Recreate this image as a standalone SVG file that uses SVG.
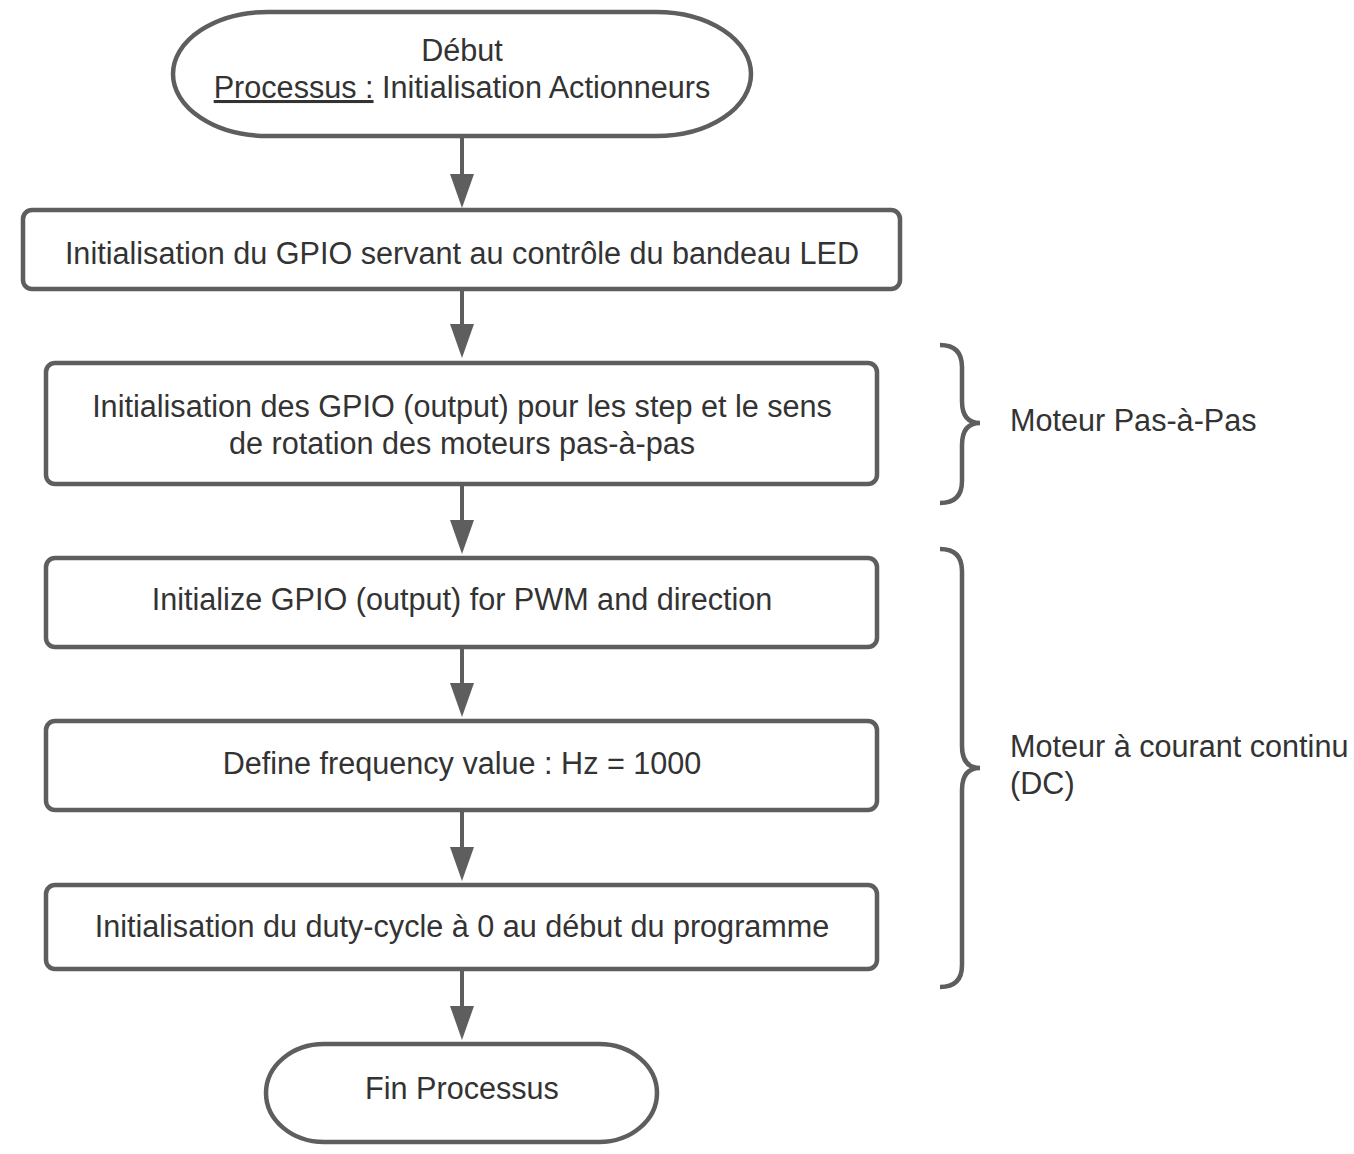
<svg xmlns="http://www.w3.org/2000/svg" width="1354" height="1154" viewBox="0 0 1354 1154">
<style>
.shape{fill:#ffffff;stroke:#5e5e5e;stroke-width:4.5}
.line{fill:none;stroke:#5e5e5e;stroke-width:4}
.head{fill:#5e5e5e;stroke:none}
.brace{fill:none;stroke:#5e5e5e;stroke-width:4.5;stroke-linecap:butt}
text{font-family:"Liberation Sans",Arial,sans-serif;font-size:30.6px;fill:#333333}
.c{text-anchor:middle}
</style>
<rect width="1354" height="1154" fill="#ffffff"/>
<g id="connectors">
<line class="line" x1="462" y1="137" x2="462" y2="176"/>
<polygon class="head" points="450,174 474,174 462,208"/>
<line class="line" x1="462" y1="290" x2="462" y2="326"/>
<polygon class="head" points="450,324 474,324 462,358"/>
<line class="line" x1="462" y1="485" x2="462" y2="522"/>
<polygon class="head" points="450,520 474,520 462,554"/>
<line class="line" x1="462" y1="648" x2="462" y2="685"/>
<polygon class="head" points="450,683 474,683 462,717"/>
<line class="line" x1="462" y1="811" x2="462" y2="849"/>
<polygon class="head" points="450,847 474,847 462,881"/>
<line class="line" x1="462" y1="970" x2="462" y2="1008"/>
<polygon class="head" points="450,1006 474,1006 462,1040"/>
</g>
<g id="start">
<rect class="shape" x="173" y="12" width="578" height="124" rx="95" ry="62"/>
<text class="c" x="462" y="61">Début</text>
<text class="c" x="462" y="98"><tspan text-decoration="underline">Processus :</tspan> Initialisation Actionneurs</text>
</g>
<g id="gpio-led">
<rect class="shape" x="23" y="210" width="877" height="79" rx="9"/>
<text class="c" x="462" y="264">Initialisation du GPIO servant au contrôle du bandeau LED</text>
</g>
<g id="gpio-step">
<rect class="shape" x="46" y="363" width="831" height="121" rx="9"/>
<text class="c" x="462" y="417">Initialisation des GPIO (output) pour les step et le sens</text>
<text class="c" x="462" y="454">de rotation des moteurs pas-à-pas</text>
</g>
<g id="gpio-pwm">
<rect class="shape" x="46" y="558" width="831" height="89" rx="9"/>
<text class="c" x="462" y="610">Initialize GPIO (output) for PWM and direction</text>
</g>
<g id="freq">
<rect class="shape" x="46" y="721" width="831" height="89" rx="9"/>
<text class="c" x="462" y="774">Define frequency value : Hz = 1000</text>
</g>
<g id="duty">
<rect class="shape" x="46" y="885" width="831" height="84" rx="9"/>
<text class="c" x="462" y="937">Initialisation du duty-cycle à 0 au début du programme</text>
</g>
<g id="end">
<rect class="shape" x="266" y="1044" width="391" height="98" rx="58" ry="49"/>
<text class="c" x="462" y="1099">Fin Processus</text>
</g>
<g id="brace-stepper">
<path class="brace" d="M940,345 Q962,345 962,367 L962,401 Q962,423 980,423 Q962,423 962,445 L962,481 Q962,503 940,503"/>
<text x="1010" y="431">Moteur Pas-à-Pas</text>
</g>
<g id="brace-dc">
<path class="brace" d="M940,549 Q962,549 962,571 L962,746 Q962,768 980,768 Q962,768 962,790 L962,965 Q962,987 940,987"/>
<text x="1010" y="757">Moteur à courant continu</text>
<text x="1010" y="794">(DC)</text>
</g>
</svg>
